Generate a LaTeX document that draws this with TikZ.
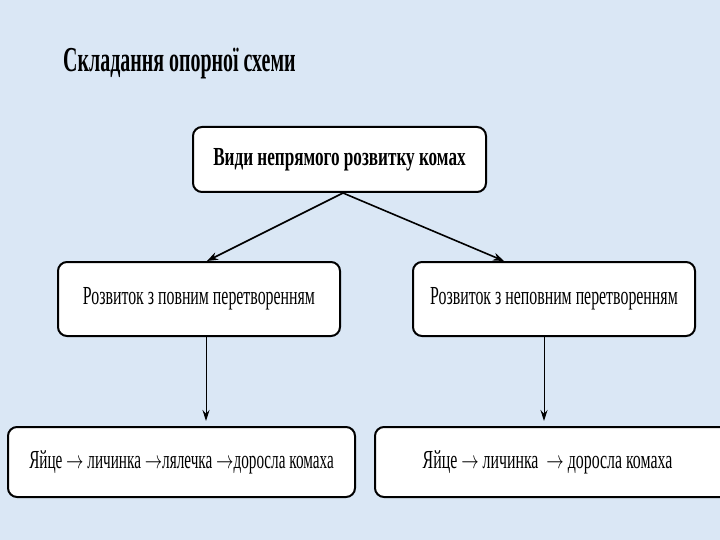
\documentclass[tikz,border=0pt]{standalone}
\usepackage{fontspec}
\usepackage{graphicx}
\setmainfont{Liberation Serif}
\newfontfamily\titlefont[FakeStretch=0.57]{Liberation Serif}
\newfontfamily\headfont[FakeStretch=0.66]{Liberation Serif}
\newfontfamily\boxfont[FakeStretch=0.61]{Liberation Serif}
\newfontfamily\chainfont[FakeStretch=0.585]{Liberation Serif}
\newcommand\myarr{\scalebox{0.7}[1]{$\rightarrow$}}
\usetikzlibrary{arrows.meta,calc}
\definecolor{bg}{HTML}{DAE7F5}
\begin{document}
\begin{tikzpicture}[x=1pt,y=-1pt,
  box/.style={draw=black,line width=2pt,fill=white,rounded corners=9pt,inner sep=0pt,align=center},
  conn/.style={line width=1.6pt,-{Stealth[length=11pt,width=8pt]}},
  vconn/.style={line width=1pt,-{Stealth[length=11pt,width=7pt]}}]
\fill[bg] (0,0) rectangle (720,540);
\useasboundingbox (0,0) rectangle (720,540);
\node[anchor=west,inner sep=0pt] (title) at (63,64) {\titlefont\fontsize{35}{38}\selectfont\bfseries Складання опорної схеми};
\node[box,minimum width=293pt,minimum height=65pt] (top) at (339.5,159.5) {\headfont\fontsize{26}{28}\selectfont\bfseries Види непрямого розвитку комах};
\node[box,minimum width=282pt,minimum height=74pt] (left) at (199,299) {\raisebox{6pt}{\boxfont\fontsize{26}{28}\selectfont Розвиток з повним перетворенням}};
\node[box,minimum width=282pt,minimum height=74pt] (right) at (554,299) {\raisebox{6pt}{\boxfont\fontsize{26}{28}\selectfont Розвиток з неповним перетворенням}};
\node[box,minimum width=347pt,minimum height=70pt] (bl) at (181.5,462) {\raisebox{3pt}{\chainfont\fontsize{26}{28}\selectfont Яйце \myarr{} личинка \myarr{}лялечка \myarr{}доросла комаха}};
\node[box,minimum width=355pt,minimum height=70pt] (br) at (552.5,462) {\raisebox{3pt}{\hspace*{-10pt}\boxfont\fontsize{26}{28}\selectfont Яйце \myarr{} личинка \ \myarr{} доросла комаха}};
\coordinate (s) at ($(top.south)+(3.5,0)$);
\coordinate (lt) at ($(left.north)+(8,0)$);
\coordinate (rt) at ($(right.north)+(-50,0)$);
\draw[conn] (s) -- (lt);
\draw[conn] (s) -- (rt);
\coordinate (ls) at ($(left.south)+(7,0)$);
\coordinate (le) at ($(bl.north)+(24.5,-5)$);
\draw[vconn] (ls) -- (le);
\coordinate (rs) at ($(right.south)+(-10,0)$);
\coordinate (re) at ($(br.north)+(-8.5,-5)$);
\draw[vconn] (rs) -- (re);
\end{tikzpicture}
\end{document}
